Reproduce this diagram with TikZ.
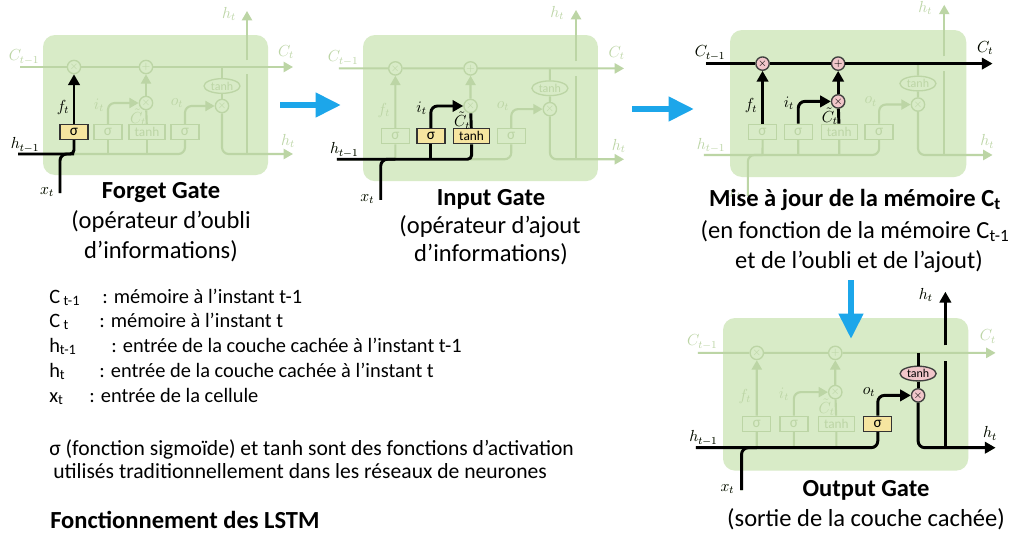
\documentclass[tikz,border=0pt]{standalone}
\usepackage{fontspec}
\setmainfont{Carlito}
\usetikzlibrary{arrows.meta,shapes.geometric}
\definecolor{cellgreen}{RGB}{216,235,199}
\definecolor{fade}{RGB}{188,213,165}
\definecolor{yel}{RGB}{246,229,160}
\definecolor{pinkc}{RGB}{241,198,202}
\definecolor{bluearr}{RGB}{28,166,234}
\tikzset{
 fline/.style={draw=fade, line width=1.6pt},
 farrow/.style={fline, -{Triangle[length=7pt,width=7.5pt]}},
 hline/.style={draw=black, line width=2.2pt},
 harrow/.style={hline, -{Triangle[length=8pt,width=8.5pt]}},
 fcirc/.style={circle, draw=fade, fill=cellgreen, line width=1pt, inner sep=0pt, minimum size=10pt, text=fade, font=\footnotesize},
 hcirc/.style={fcirc, draw=black!75, fill=pinkc, text=black},
 fbox/.style={rectangle, draw=fade, fill=cellgreen, line width=1pt, inner sep=0pt, minimum height=11.3pt, minimum width=21pt, text=fade, font=\fontsize{11.5}{12}\selectfont},
 tbox/.style={minimum width=27pt, font=\fontsize{10}{11}\selectfont},
 hbox/.style={fbox, draw=black!80, fill=yel, text=black},
 fell/.style={ellipse, draw=fade, fill=cellgreen, line width=1pt, inner sep=0pt, minimum width=27pt, minimum height=11pt, text=fade, font=\fontsize{9}{10}\selectfont},
 hell/.style={fell, draw=black!75, fill=pinkc, text=black},
 flab/.style={text=fade, font=\fontsize{11.5}{12}\selectfont, inner sep=0pt},
 hlab/.style={flab, text=black},
 gtitle/.style={font=\fontsize{18.4}{22}\selectfont\bfseries, inner sep=0pt, anchor=base},
 gsub/.style={font=\fontsize{18.4}{22}\selectfont, inner sep=0pt, anchor=base},
 legend/.style={font=\fontsize{15.3}{18}\selectfont, anchor=base west, inner sep=0pt},
 legendb/.style={legend, font=\fontsize{16.2}{18}\selectfont},
 bluearrow/.style={draw=bluearr, line width=4.5pt, -{Triangle[length=19pt,width=17.5pt]}},
}
\newcommand\lstmcell[3]{%
\begin{scope}[shift={#2},scale=#3]
 \fill[cellgreen, rounded corners=9pt] (0,0) rectangle (225,140);
 \coordinate (#1Cin) at (-23,32);
 \coordinate (#1Cout) at (250,32);
 \coordinate (#1Cj) at (179,32);
 \coordinate (#1hin) at (-25,119);
 \coordinate (#1hout) at (250,119);
 \coordinate (#1xin) at (17,158);
 \coordinate (#1xj) at (31,119);
 \coordinate (#1hup) at (204,119);
 \coordinate (#1gapb) at (204,39);
 \coordinate (#1gapt) at (204,25);
 \coordinate (#1htop) at (204,-24);
 \node[fcirc] (#1xf) at (31,32) {$\times$};
 \node[fcirc] (#1plus) at (103,32) {$+$};
 \node[fcirc] (#1xi) at (103,68) {$\times$};
 \node[fell] (#1tanh) at (179,51) {tanh};
 \node[fcirc] (#1ox) at (179,71) {$\times$};
 \node[fbox] (#1sf) at (31,97) {σ};
 \node[fbox] (#1si) at (65,97) {σ};
 \node[fbox, tbox] (#1tc) at (104,97) {tanh};
 \node[fbox] (#1so) at (142,97) {σ};
 \draw[farrow] (#1Cin) -- (#1xf) -- (#1plus) -- (#1Cout);
 \draw[fline] (#1Cj) -- (#1tanh) -- (#1ox);
 \draw[farrow, rounded corners=5pt] (#1ox) |- (#1hout);
 \draw[fline] (#1hup) -- (#1gapb);
 \draw[farrow] (#1gapt) -- (#1htop);
 \draw[fline, rounded corners=5pt] (#1hin) -| (#1so);
 \draw[fline, rounded corners=5pt] (#1xin) |- (#1xj);
 \draw[fline] (#1sf) -- (#1sf |- #1hin);
 \draw[fline] (#1si) -- (#1si |- #1hin);
 \draw[fline] (#1tc) -- (#1tc |- #1hin);
 \draw[farrow] (#1sf) -- (#1xf);
 \draw[farrow, rounded corners=5pt] (#1si) |- (#1xi);
 \draw[fline] (#1tc) -- (#1xi);
 \draw[farrow] (#1xi) -- (#1plus);
 \draw[farrow, rounded corners=5pt] (#1so) |- (#1ox);
 \node[flab] (#1lCp) at (-19,22) {$C_{t-1}$};
 \node[flab] (#1lCt) at (243,17) {$C_t$};
 \node[flab] (#1lhp) at (-18,110) {$h_{t-1}$};
 \node[flab] (#1lht) at (245,106) {$h_t$};
 \node[flab] (#1lhtop) at (186,-21) {$h_t$};
 \node[flab] (#1lx) at (4,157) {$x_t$};
 \node[flab] (#1lf) at (20,72) {$f_t$};
 \node[flab] (#1li) at (56,70) {$i_t$};
 \node[flab] (#1lct) at (95,82) {$\tilde{C}_t$};
 \node[flab] (#1lo) at (134,68) {$o_t$};
\end{scope}}
\begin{document}
\begin{tikzpicture}[x=0.75pt,y=-0.75pt]
\useasboundingbox (0,0) rectangle (1024,539);
\fill[white] (0,0) rectangle (1024,539);
% ---- cells
\lstmcell{A-}{(43,35)}{1}
\lstmcell{B-}{(363,35)}{1.044}
\lstmcell{C-}{(730,30)}{1.05}
\lstmcell{D-}{(723,318)}{1.09}
% ---- Forget gate highlight
\node[hbox] (A-hsf) at (A-sf) {σ};
\draw[hline, rounded corners=3pt] (A-hin) -| (A-hsf);
\draw[hline, rounded corners=5pt] (A-xin) |- (A-xj);
\draw[harrow] (A-hsf) -- (A-xf);
\node[hlab] (A-lhph) at (A-lhp) {$h_{t-1}$};
\node[hlab] (A-lxh) at (A-lx) {$x_t$};
\node[hlab] (A-lfh) at (A-lf) {$f_t$};
% ---- Input gate highlight
\node[hbox] (B-hsi) at (B-si) {σ};
\node[hbox, tbox] (B-htc) at (B-tc) {tanh};
\draw[hline, rounded corners=3pt] (B-hin) -| (B-htc);
\draw[hline] (B-hsi) -- (B-hsi |- B-hin);
\draw[hline, rounded corners=5pt] (B-xin) |- (B-xj);
\draw[harrow, rounded corners=5pt] (B-hsi) |- (B-xi);
\draw[hline] (B-htc) -- (B-xi);
\node[hlab] (B-lhph) at (B-lhp) {$h_{t-1}$};
\node[hlab] (B-lxh) at (B-lx) {$x_t$};
\node[hlab] (B-lih) at (B-li) {$i_t$};
\node[hlab] (B-lcth) at (B-lct) {$\tilde{C}_t$};
% ---- Memory update highlight
\node[hcirc] (C-hxf) at (C-xf) {$\times$};
\node[hcirc] (C-hplus) at (C-plus) {$+$};
\node[hcirc] (C-hxi) at (C-xi) {$\times$};
\draw[harrow] (C-Cin) -- (C-hxf) -- (C-hplus) -- (C-Cout);
\draw[harrow] (C-sf) -- (C-hxf);
\draw[harrow, rounded corners=5pt] (C-si) |- (C-hxi);
\draw[hline] (C-tc) -- (C-hxi);
\draw[harrow] (C-hxi) -- (C-hplus);
\node[hlab] (C-lCph) at (C-lCp) {$C_{t-1}$};
\node[hlab] (C-lCth) at (C-lCt) {$C_t$};
\node[hlab] (C-lfh) at (C-lf) {$f_t$};
\node[hlab] (C-lih) at (C-li) {$i_t$};
\node[hlab] (C-lcth) at (C-lct) {$\tilde{C}_t$};
% ---- Output gate highlight
\node[hbox] (D-hso) at (D-so) {σ};
\node[hell] (D-htanh) at (D-tanh) {tanh};
\node[hcirc] (D-hox) at (D-ox) {$\times$};
\draw[hline, rounded corners=5pt] (D-hin) -| (D-hso);
\draw[hline, rounded corners=5pt] (D-xin) |- (D-xj);
\draw[harrow, rounded corners=5pt] (D-hso) |- (D-hox);
\draw[hline] (D-Cj) -- (D-htanh) -- (D-hox);
\draw[harrow, rounded corners=5pt] (D-hox) |- (D-hout);
\draw[hline] (D-hup) -- (D-gapb);
\draw[harrow] (D-gapt) -- (D-htop);
\node[hlab] (D-lhph) at (D-lhp) {$h_{t-1}$};
\node[hlab] (D-lxh) at (D-lx) {$x_t$};
\node[hlab] (D-loh) at (D-lo) {$o_t$};
\node[hlab] (D-lhth) at (D-lht) {$h_t$};
\node[hlab] (D-lhtoph) at (D-lhtop) {$h_t$};
% ---- blue arrows
\coordinate (ar1s) at (280,105); \coordinate (ar1e) at (341,105);
\coordinate (ar2s) at (632,109); \coordinate (ar2e) at (694,109);
\coordinate (ar3s) at (851,280); \coordinate (ar3e) at (851,339);
\draw[bluearrow] (ar1s) -- (ar1e);
\draw[bluearrow] (ar2s) -- (ar2e);
\draw[bluearrow] (ar3s) -- (ar3e);
% ---- titles
\node[gtitle] (t1) at (161,198) {Forget Gate};
\node[gsub] (t1a) at (161,228) {(opérateur d’oubli};
\node[gsub] (t1b) at (161,258) {d’informations)};
\node[gtitle] (t2) at (491,205) {Input Gate};
\node[gsub] (t2a) at (490,233) {(opérateur d’ajout};
\node[gsub] (t2b) at (491,261) {d’informations)};
\node[gtitle] (t3) at (855,206) {Mise à jour de la mémoire C\textsubscript{t}};
\node[gsub] (t3a) at (855,238) {(en fonction de la mémoire C\textsubscript{t-1}};
\node[gsub] (t3b) at (859,268) {et de l’oubli et de l’ajout)};
\node[gtitle] (t4) at (866,496) {Output Gate};
\node[gsub] (t4a) at (866,526) {(sortie de la couche cachée)};
% ---- legend
\node[legend] (l1a) at (49,303) {C\,\textsubscript{t-1}};
\node[legend] (l1b) at (102,303) {: mémoire à l’instant t-1};
\node[legend] (l2a) at (49,327) {C\,\textsubscript{t}};
\node[legend] (l2b) at (99,327) {: mémoire à l’instant t};
\node[legend] (l3a) at (49,352) {h\textsubscript{t-1}};
\node[legend] (l3b) at (111,352) {: entrée de la couche cachée à l’instant t-1};
\node[legend] (l4a) at (49,377) {h\textsubscript{t}};
\node[legend] (l4b) at (99,377) {: entrée de la couche cachée à l’instant t};
\node[legend] (l5a) at (49,402) {x\textsubscript{t}};
\node[legend] (l5b) at (89,402) {: entrée de la cellule};
\node[legendb] (l6) at (49,455) {σ (fonction sigmoïde) et tanh sont des fonctions d’activation};
\node[legendb] (l7) at (53,478) {utilisés traditionnellement dans les réseaux de neurones};
\node[gtitle, anchor=base west] (l8) at (50,528) {Fonctionnement des LSTM};
\end{tikzpicture}
\end{document}
